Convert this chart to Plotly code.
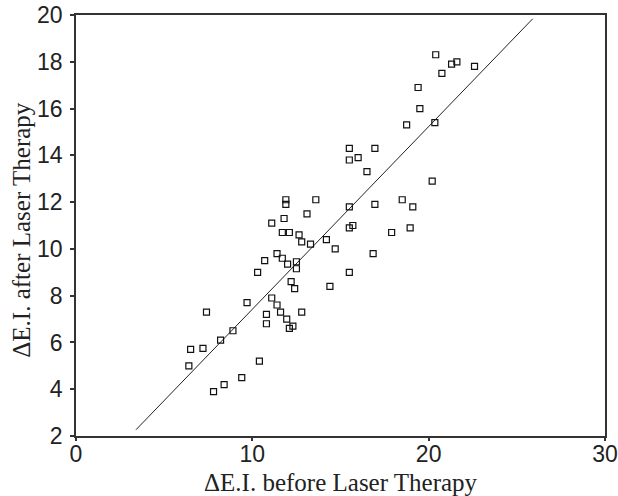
import plotly.graph_objects as go

# Data
ei_before = [6.4, 6.5, 7.2, 7.4, 7.8, 8.2, 8.4, 8.9, 9.4, 9.7, 10.3, 10.4, 10.7, 10.8, 10.8,
             11.1, 11.4, 11.4, 11.7, 11.6, 11.95, 12.0, 12.1, 12.3, 12.2, 12.4, 12.5, 12.5,
             12.8, 12.8, 13.3, 11.1, 11.9, 11.9, 11.8, 11.7, 12.1, 12.65, 13.1, 13.6,
             20.4, 21.3, 21.6, 20.75, 22.6, 19.4, 19.5, 18.75, 20.35, 15.5, 16.95, 15.5,
             16.0, 16.5, 20.2, 15.5, 16.95, 18.5, 19.1, 15.5, 15.7, 17.9, 18.95, 14.2,
             14.7, 16.85, 15.5, 14.4]
ei_after = [5.0, 5.7, 5.75, 7.3, 3.9, 6.1, 4.2, 6.5, 4.5, 7.7, 9.0, 5.2, 9.5, 7.2, 6.8,
            7.9, 9.8, 7.6, 9.6, 7.3, 7.0, 9.35, 6.6, 6.7, 8.6, 8.3, 9.45, 9.15,
            7.3, 10.3, 10.2, 11.1, 12.1, 11.9, 11.3, 10.7, 10.7, 10.6, 11.5, 12.1,
            18.3, 17.9, 18.0, 17.5, 17.8, 16.9, 16.0, 15.3, 15.4, 14.3, 14.3, 13.8,
            13.9, 13.3, 12.9, 11.8, 11.9, 12.1, 11.8, 10.9, 11.0, 10.7, 10.9, 10.4,
            10.0, 9.8, 9.0, 8.4]

fit_slope = 0.781
fit_intercept = -0.39
fit_x_range = [3.4, 25.9]

x_ticks = [0, 10, 20, 30]
y_ticks = [2, 4, 6, 8, 10, 12, 14, 16, 18, 20]

x_title = "ΔE.I. before Laser Therapy"
y_title = "ΔE.I. after Laser Therapy"

fit_y = [fit_slope * v + fit_intercept for v in fit_x_range]

fig = go.Figure()
fig.add_trace(go.Scatter(
    x=fit_x_range, y=fit_y, mode="lines",
    line=dict(color="#222222", width=1), hoverinfo="skip", showlegend=False))
fig.add_trace(go.Scatter(
    x=ei_before, y=ei_after, mode="markers",
    marker=dict(symbol="square-open", size=6, color="#111111", line=dict(width=1.2)),
    showlegend=False))

axis_common = dict(
    showgrid=False, zeroline=False, showline=True, linecolor="#333333", linewidth=1.5,
    mirror=True, ticks="outside", tickcolor="#333333", tickwidth=1.5,
    automargin=False,
    tickfont=dict(family="Liberation Sans, Arial, sans-serif", size=23, color="#222222"),
)

title_font = dict(family="Liberation Serif, Times New Roman, serif", size=25, color="#222222")

fig.update_layout(
    width=618, height=496,
    margin=dict(l=76, r=13, t=15, b=60),
    paper_bgcolor="white", plot_bgcolor="white",
    xaxis=dict(range=[0, 30], tickvals=x_ticks, ticklen=3, ticklabelstandoff=-6, **axis_common),
    yaxis=dict(range=[2, 20], tickvals=y_ticks, ticklen=4, ticklabelstandoff=3, **axis_common),
    annotations=[
        dict(text=x_title, xref="paper", yref="paper", x=0.5, y=-0.11,
             xanchor="center", yanchor="middle", showarrow=False, font=title_font),
        dict(text=y_title, xref="paper", yref="paper", x=-0.102, y=0.49, textangle=-90,
             xanchor="center", yanchor="middle", showarrow=False, font=title_font),
    ],
)

fig.write_html("out.html", config={"displayModeBar": False},
               post_script="document.body.style.margin='0';")
